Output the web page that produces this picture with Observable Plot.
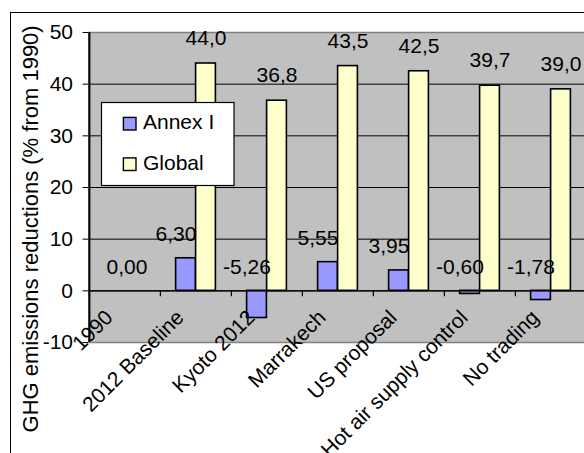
<!DOCTYPE html>
<html>
<head>
<meta charset="utf-8">
<script src="https://cdn.jsdelivr.net/npm/d3@7"></script>
<script src="https://cdn.jsdelivr.net/npm/@observablehq/plot@0.6"></script>
<style>
  html, body { margin: 0; padding: 0; overflow: hidden; background: #fff; }
  #chart { position: relative; width: 584px; height: 453px; overflow: hidden; }
  #chart > svg { position: absolute; left: 0; top: 0; }
  #border { position: absolute; left: 10.25px; top: 11.5px; width: 620px; height: 480px;
            border-top: 1.5px solid #000; border-left: 1.5px solid #000; pointer-events: none; }
</style>
</head>
<body>
<div id="chart"><div id="border"></div></div>
<script>
// Scenarios and emission reductions (% from 1990)
const categories = ["1990", "2012 Baseline", "Kyoto 2012", "Marrakech", "US proposal", "Hot air supply control", "No trading"];
const annexI = [0.00, 6.30, -5.26, 5.55, 3.95, -0.60, -1.78];
const globalValues = [null, 44.0, 36.8, 43.5, 42.5, 39.7, 39.0];
const seriesNames = ["Annex I", "Global"];
const yTicks = [-10, 0, 10, 20, 30, 40, 50];
const yTitle = "GHG emissions reductions (% from 1990)";

const seriesColors = ["#9999FF", "#FFFFCC"];
const font = "'Liberation Sans', Arial, Helvetica, sans-serif";

const rows = categories.map((category, i) => ({category, annex: annexI[i], global: globalValues[i]}));
const withGlobal = rows.filter(d => d.global != null);
const withoutGlobal = rows.filter(d => d.global == null);

const comma = (v, digits) => v.toFixed(digits).replace(".", ",");

const width = 590, height = 453;
const marginLeft = 88.5, marginRight = 3, marginTop = 32, marginBottom = 111;
const step = (width - marginLeft - marginRight) / categories.length;
const barWidth = 20;
const pxPerUnit = (height - marginTop - marginBottom) / (yTicks[yTicks.length - 1] - yTicks[0]);

const chart = Plot.plot({
  width, height, marginLeft, marginRight, marginTop, marginBottom,
  style: {fontFamily: font, fontSize: "21px", color: "#000", background: "transparent", maxWidth: "none", overflow: "visible"},
  x: {domain: categories, padding: 0, axis: null},
  y: {domain: [yTicks[0], yTicks[yTicks.length - 1]], ticks: yTicks, tickSize: 6, tickPadding: 10,
      tickFormat: d => String(d), label: null},
  marks: [
    Plot.frame({fill: "#C0C0C0", stroke: "#808080", strokeWidth: 1.5}),
    Plot.ruleY(yTicks.slice(1, -1), {stroke: "#000", strokeWidth: 1}),
    Plot.barY(rows, {x: "category", y: "annex", fill: seriesColors[0], stroke: "#000", strokeWidth: 1.6,
      insetLeft: step / 2 - barWidth, insetRight: step / 2}),
    Plot.barY(withGlobal, {x: "category", y: "global", fill: seriesColors[1], stroke: "#000", strokeWidth: 1.6,
      insetLeft: step / 2, insetRight: step / 2 - barWidth}),
    Plot.ruleY([0], {stroke: "#000", strokeWidth: 1.3}),
    // category separators on the zero axis
    Plot.ruleX(categories, {x: d => d, y1: 0, y2: -6 / pxPerUnit, dx: -step / 2, stroke: "#000", strokeWidth: 1.2}),
    // value axis line
    Plot.ruleX(categories.slice(0, 1), {x: d => d, y1: yTicks[0], y2: yTicks[yTicks.length - 1], dx: -step / 2, stroke: "#000", strokeWidth: 2}),
    // category labels next to the zero axis
    Plot.text(categories, {x: d => d, y: () => 0, text: d => d, rotate: -45, textAnchor: "end", lineAnchor: "bottom",
      dx: -11, dy: 28, fill: "#000"}),
    // data labels
    Plot.text(withGlobal, {x: "category", y: d => Math.max(d.annex, 0), text: d => comma(d.annex, 2),
      lineAnchor: "bottom", dx: -20, dy: -17, fill: "#000"}),
    Plot.text(withoutGlobal, {x: "category", y: d => Math.max(d.annex, 0), text: d => comma(d.annex, 2),
      lineAnchor: "bottom", dx: 2, dy: -17, fill: "#000"}),
    Plot.text(withGlobal, {x: "category", y: "global", text: d => comma(d.global, 1),
      lineAnchor: "bottom", dx: barWidth / 2, dy: -18.5, fill: "#000"}),
    // value axis title
    Plot.text([yTitle], {frameAnchor: "left", text: d => d, rotate: -90, textAnchor: "middle", lineAnchor: "bottom",
      dx: -51.5, dy: 41.4, fontSize: 22, fill: "#000"})
  ]
});

const container = document.getElementById("chart");
container.insertBefore(chart, container.firstChild);

// legend box drawn over the plot area
const legend = d3.select(container).append("svg")
  .attr("width", 584).attr("height", 453)
  .style("position", "absolute").style("left", "0").style("top", "0")
  .style("font-family", font).style("font-size", "21px");
legend.append("rect")
  .attr("x", 101.5).attr("y", 102.5).attr("width", 132.5).attr("height", 83)
  .attr("fill", "#fff").attr("stroke", "#000").attr("stroke-width", 1.2);
const item = legend.selectAll("g.item").data(seriesNames).join("g")
  .attr("class", "item")
  .attr("transform", (d, i) => `translate(0,${i * 40.5})`);
item.append("rect")
  .attr("x", 123.4).attr("y", 117.4).attr("width", 12.6).attr("height", 12.6)
  .attr("fill", (d, i) => seriesColors[i]).attr("stroke", "#000").attr("stroke-width", 1.4);
item.append("text")
  .attr("x", 143).attr("y", 129.3)
  .attr("fill", "#000")
  .text(d => d);
</script>
</body>
</html>
